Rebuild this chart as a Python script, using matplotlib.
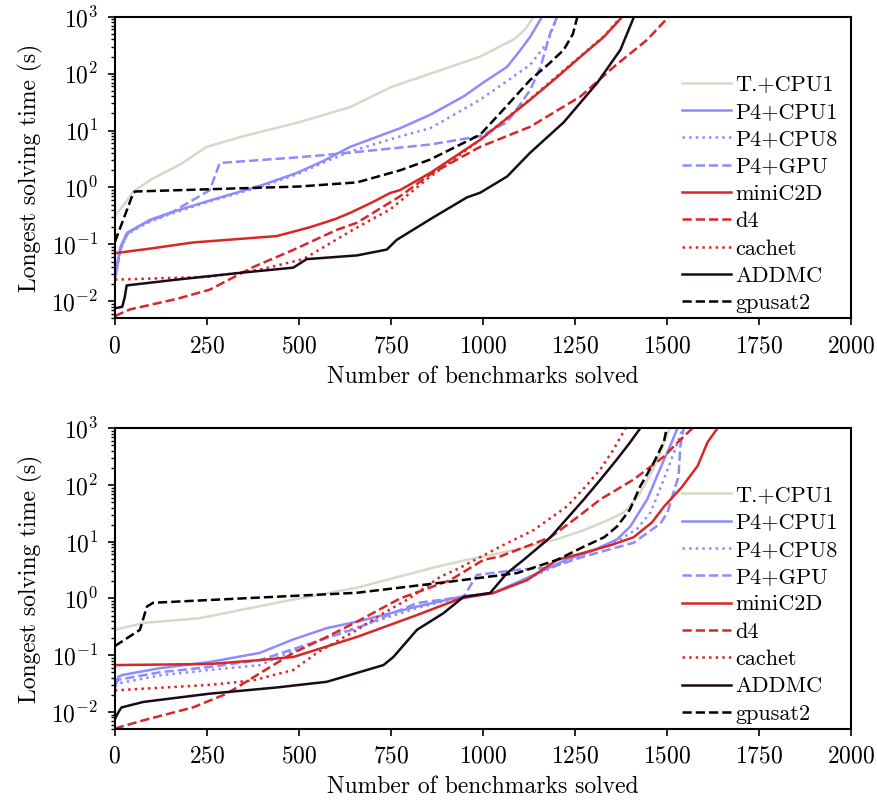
import matplotlib
matplotlib.use("Agg")
import matplotlib.pyplot as plt

plt.rcParams["font.family"] = "serif"
plt.rcParams["font.serif"] = ["cmr10"]
plt.rcParams["mathtext.fontset"] = "cm"
plt.rcParams["axes.formatter.use_mathtext"] = True
plt.rcParams["axes.unicode_minus"] = False

# ============================================================
# DATA
# ============================================================

labels = ["T.+CPU1", "P4+CPU1", "P4+CPU8", "P4+GPU", "miniC2D",
          "d4", "cachet", "ADDMC", "gpusat2"]

# --- top panel ---
top_tcpu1 = ([0, 25, 50, 100, 180, 250, 350, 500, 640, 750, 857, 993, 1084, 1115, 1138],
             [0.32, 0.5, 0.85, 1.4, 2.6, 5.2, 8, 14, 26, 58, 100, 200, 400, 600, 1000])
top_p4cpu1 = ([0, 15, 33, 60, 95, 150, 250, 400, 494, 570, 640, 775, 857, 948, 1000, 1066, 1100, 1129, 1161],
              [0.028, 0.09, 0.16, 0.2, 0.27, 0.36, 0.57, 1.1, 1.8, 3.0, 5.2, 11, 19, 40, 69, 132, 250, 447, 1000])
top_p4cpu8 = ([0, 15, 33, 60, 95, 150, 250, 400, 494, 570, 640, 775, 857, 993, 1060, 1129, 1175, 1202],
              [0.022, 0.08, 0.15, 0.19, 0.25, 0.34, 0.55, 1.05, 1.7, 2.8, 4.3, 7.9, 11, 35, 70, 144, 350, 1000])
top_p4gpu = ([0, 15, 33, 60, 95, 150, 258, 285, 500, 640, 857, 993, 1066, 1100, 1129, 1157, 1184, 1202],
             [0.025, 0.08, 0.15, 0.2, 0.26, 0.35, 0.9, 2.7, 3.4, 4.1, 5.7, 8, 14, 28, 52, 133, 530, 1000])
top_minic2d = ([0, 100, 212, 440, 530, 600, 640, 700, 748, 775, 857, 993, 1129, 1200, 1266, 1330, 1379],
               [0.07, 0.085, 0.108, 0.14, 0.2, 0.28, 0.36, 0.55, 0.8, 0.9, 1.8, 6.9, 35, 85, 200, 450, 1000])
top_d4 = ([0, 41, 168, 258, 376, 485, 603, 658, 775, 857, 993, 1129, 1266, 1356, 1447, 1505],
          [0.0055, 0.0072, 0.011, 0.016, 0.04, 0.08, 0.18, 0.24, 0.7, 1.7, 5.2, 11.7, 40, 132, 396, 1000])
top_cachet = ([0, 258, 394, 512, 580, 640, 700, 748, 848, 993, 1129, 1266, 1330, 1376],
              [0.024, 0.027, 0.036, 0.055, 0.1, 0.17, 0.28, 0.41, 1.4, 6.9, 36, 205, 460, 1000])
top_addmc = ([0, 20, 27, 32, 168, 349, 485, 521, 658, 739, 766, 866, 957, 993, 1066, 1129,
              1220, 1311, 1374, 1411],
             [0.0075, 0.008, 0.012, 0.019, 0.024, 0.032, 0.039, 0.055, 0.064, 0.081, 0.12, 0.3,
              0.67, 0.81, 1.56, 4.1, 14, 69, 263, 1000])
top_gpusat2 = ([0, 50, 55, 367, 500, 658, 775, 857, 993, 1060, 1129, 1180, 1220, 1245, 1257],
               [0.11, 0.8, 0.85, 0.98, 1.04, 1.23, 2.0, 3.1, 8.5, 25, 78, 150, 263, 500, 1000])

# --- bottom panel ---
bot_tcpu1 = ([0, 77, 231, 440, 658, 866, 957, 1093, 1200, 1275, 1340, 1384, 1420, 1438, 1465, 1483, 1508],
             [0.28, 0.37, 0.45, 0.84, 1.55, 3.5, 4.8, 7.3, 11, 16, 24, 33, 60, 96, 200, 380, 1000])
bot_p4cpu1 = ([0, 10, 22, 122, 258, 394, 485, 576, 658, 821, 939, 1029, 1120, 1229, 1300, 1365,
               1401, 1447, 1480, 1510, 1529],
              [0.03, 0.042, 0.045, 0.059, 0.076, 0.11, 0.19, 0.3, 0.39, 0.72, 1.07, 1.25, 2.3, 4.9,
               7, 11, 18.6, 56, 180, 500, 1000])
bot_p4cpu8 = ([0, 10, 122, 258, 394, 530, 658, 821, 939, 1029, 1120, 1229, 1300, 1365, 1420,
               1456, 1492, 1520, 1543],
              [0.028, 0.032, 0.044, 0.055, 0.067, 0.16, 0.31, 0.68, 1.05, 1.25, 2.2, 4.6, 7, 10,
               17, 33, 125, 380, 1000])
bot_p4gpu = ([0, 10, 122, 258, 394, 530, 658, 821, 948, 984, 1093, 1184, 1275, 1350, 1410, 1483,
              1502, 1532, 1537, 1546],
             [0.03, 0.037, 0.05, 0.062, 0.082, 0.16, 0.3, 0.83, 1.07, 2.6, 3.2, 3.5, 5.5, 7.5, 9.6,
              21, 33, 143, 490, 1000])
bot_minic2d = ([0, 258, 394, 485, 658, 821, 939, 1029, 1120, 1202, 1275, 1350, 1410, 1460, 1493,
                1540, 1584, 1611, 1638],
               [0.067, 0.07, 0.082, 0.093, 0.21, 0.51, 1.0, 1.25, 2.1, 4.8, 6.4, 8.8, 12, 22, 42,
                90, 217, 570, 1000])
bot_d4 = ([0, 77, 212, 304, 394, 485, 576, 658, 775, 850, 911, 1002, 1047, 1184, 1260, 1320, 1410,
           1493, 1538, 1570],
          [0.0051, 0.0071, 0.012, 0.021, 0.048, 0.11, 0.21, 0.39, 1.0, 1.5, 2.1, 4.8, 5.5, 12, 28,
           56, 125, 320, 640, 1000])
bot_cachet = ([0, 258, 376, 485, 549, 658, 730, 800, 884, 939, 1047, 1138, 1229, 1280, 1320, 1355, 1388],
              [0.024, 0.03, 0.036, 0.055, 0.11, 0.28, 0.55, 1.0, 2.4, 3.5, 8.2, 16, 42, 95, 190, 420, 1000])
bot_addmc = ([0, 10, 18, 77, 258, 440, 576, 640, 730, 757, 821, 893, 948, 1020, 1066, 1111, 1184,
              1275, 1320, 1365, 1400, 1428],
             [0.0075, 0.01, 0.012, 0.015, 0.021, 0.027, 0.034, 0.045, 0.067, 0.093, 0.28, 0.55,
              1.07, 1.25, 2.8, 4.8, 12, 56, 125, 285, 560, 1000])
bot_gpusat2 = ([0, 68, 87, 104, 658, 911, 1093, 1202, 1275, 1330, 1365, 1400, 1428, 1465, 1492, 1500],
               [0.145, 0.28, 0.72, 0.84, 1.26, 1.98, 2.8, 4.8, 8.2, 12, 18.6, 37, 95, 250, 570, 1000])

# ============================================================
# STYLES
# ============================================================

C_TCPU = "#d8d8c8"
C_P4 = "#8c8cff"
C_RED = "#d92626"
C_ADDMC = "#1a0a1a"
C_GPUSAT = "#000000"

styles = [
    (C_TCPU, "-"), (C_P4, "-"), (C_P4, ":"), (C_P4, "--"),
    (C_RED, "-"), (C_RED, "--"), (C_RED, ":"), (C_ADDMC, "-"), (C_GPUSAT, "--"),
]

top_series = [top_tcpu1, top_p4cpu1, top_p4cpu8, top_p4gpu, top_minic2d,
              top_d4, top_cachet, top_addmc, top_gpusat2]
bot_series = [bot_tcpu1, bot_p4cpu1, bot_p4cpu8, bot_p4gpu, bot_minic2d,
              bot_d4, bot_cachet, bot_addmc, bot_gpusat2]


def draw_panel(ax, series):
    for (x, y), (col, ls), lab in zip(series, styles, labels):
        ax.plot(x, y, color=col, ls=ls, lw=1.8, label=lab)
    ax.set_yscale("log")
    ax.set_xlim(0, 2000)
    ax.set_ylim(5e-3, 1e3)
    ax.set_xticks([0, 250, 500, 750, 1000, 1250, 1500, 1750, 2000])
    ax.set_xlabel("Number of benchmarks solved", fontsize=17, labelpad=6)
    ax.set_ylabel("Longest solving time (s)", fontsize=17, labelpad=6)
    ax.tick_params(labelsize=17, width=1.2, length=5, pad=7)
    ax.tick_params(which="minor", width=1.0, length=3)
    for sp in ax.spines.values():
        sp.set_linewidth(1.5)
    ax.legend(loc="lower right", bbox_to_anchor=(1.0, -0.027), frameon=False,
              fontsize=16, handlelength=2.2, labelspacing=0.35,
              handletextpad=0.2, borderaxespad=0.2)


fig = plt.figure(figsize=(8.77, 8.02), dpi=100)
ax1 = fig.add_axes([0.131, 0.603, 0.839, 0.376])
ax2 = fig.add_axes([0.131, 0.091, 0.839, 0.375])

draw_panel(ax1, top_series)
draw_panel(ax2, bot_series)

fig.savefig("out.png", dpi=100)
